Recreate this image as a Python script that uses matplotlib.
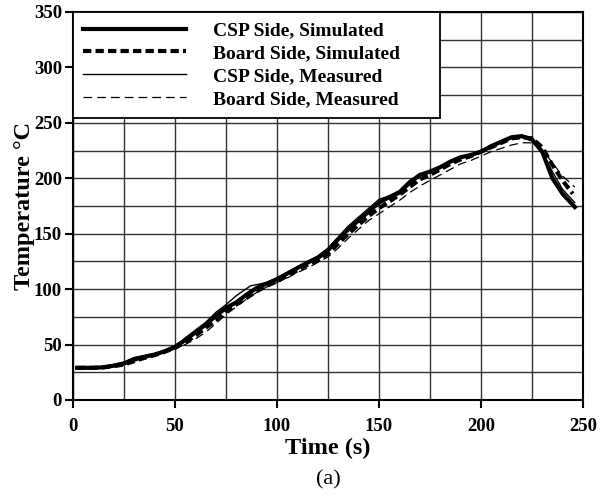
import numpy as np
import matplotlib.pyplot as plt
from matplotlib.ticker import MultipleLocator

plt.rcParams['font.family'] = ['Liberation Serif', 'DejaVu Serif']

# ---- data ----
t_csp_sim = [2, 10, 15, 20, 25, 30, 35, 40, 45, 50, 55, 60, 65, 70, 75, 80, 85, 90, 95,
             100, 105, 110, 115, 120, 125, 130, 135, 140, 145, 150, 155, 160, 165, 170,
             175, 180, 185, 190, 195, 200, 205, 210, 215, 220, 225, 230, 235, 240, 246]
T_csp_sim = [29, 29, 29.5, 31, 33, 37, 39, 41, 44, 48, 54, 61, 68, 76, 83, 88, 95, 101, 105,
             109, 114, 119, 124, 128, 135, 145, 154, 162, 170, 178, 183, 187, 196, 203,
             206, 210, 215, 219, 221, 224, 229, 233, 237, 238, 235, 224, 200, 186, 174]

t_board_sim = [2, 10, 15, 20, 25, 30, 35, 40, 45, 50, 55, 60, 65, 70, 75, 80, 85, 90, 95,
               100, 105, 110, 115, 120, 125, 130, 135, 140, 145, 150, 155, 160, 165, 170,
               175, 180, 185, 190, 195, 200, 205, 210, 215, 220, 225, 230, 235, 240, 245]
T_board_sim = [29, 29, 29.5, 30.5, 32, 35, 38, 40.5, 43.5, 47, 52, 58, 65, 72, 80, 86, 92, 98, 103,
               107, 112, 117, 122, 126, 132, 141, 150, 158, 166, 173, 179, 185, 192, 199,
               203, 208, 213, 217, 220, 224, 228, 232, 236, 237, 236, 228, 212, 198, 186]

t_csp_meas = [2, 10, 15, 20, 25, 30, 35, 40, 45, 50, 55, 60, 65, 70, 75, 80, 87, 90, 95,
              100, 105, 110, 115, 120, 125, 130, 135, 140, 145, 150, 155, 160, 165, 170,
              175, 180, 185, 190, 195, 200, 205, 210, 215, 220, 225, 230, 235, 240, 246]
T_csp_meas = [29, 29, 30, 32, 34, 38, 40, 41.5, 44, 48, 56, 63, 70, 79, 86, 94, 103, 104, 106,
              110, 115, 120, 125, 130, 137, 147, 157, 165, 173, 181, 184, 189, 198, 204,
              206, 209, 214, 218, 221, 224, 229, 233, 236, 237, 234, 224, 206, 190, 178]

t_board_meas = [2, 10, 15, 20, 25, 30, 35, 40, 45, 50, 55, 60, 65, 70, 75, 80, 85, 90, 95,
                100, 105, 110, 115, 120, 125, 130, 135, 140, 145, 150, 155, 160, 165, 170,
                175, 180, 185, 190, 195, 200, 205, 210, 215, 220, 225, 230, 235, 240, 246]
T_board_meas = [28.5, 29, 29, 30, 32, 35, 38, 40, 43, 46, 50, 55, 61, 69, 77, 84, 91, 97, 102,
                106, 110, 115, 119, 124, 129, 137, 146, 154, 162, 168, 174, 180, 187, 193,
                198, 203, 208, 213, 216, 220, 224, 227, 230, 232, 232, 226, 214, 202, 192]

labels = ["CSP Side, Simulated", "Board Side, Simulated",
          "CSP Side, Measured", "Board Side, Measured"]

fig = plt.figure(figsize=(6.1, 4.97), dpi=100)
ax = fig.add_axes([0.1197, 0.1952, 0.8360, 0.7807])

ax.plot(t_csp_sim, T_csp_sim, color="black", lw=3.0, label=labels[0])
ax.plot(t_board_sim, T_board_sim, color="black", lw=3.0, ls=(0, (2.0, 1.0)), label=labels[1])
ax.plot(t_csp_meas, T_csp_meas, color="black", lw=1.0, label=labels[2])
ax.plot(t_board_meas, T_board_meas, color="black", lw=0.9, ls=(0, (7, 4)), label=labels[3])

ax.set_xlim(0, 250)
ax.set_ylim(0, 350)
ax.xaxis.set_major_locator(MultipleLocator(50))
ax.yaxis.set_major_locator(MultipleLocator(50))
ax.xaxis.set_minor_locator(MultipleLocator(25))
ax.yaxis.set_minor_locator(MultipleLocator(25))
ax.grid(which="both", color="#333333", lw=1.0)
ax.set_axisbelow(True)
ax.tick_params(which="major", direction="out", length=6, width=1.5, labelsize=13.5)
ax.tick_params(axis="x", which="major", pad=7)
ax.tick_params(axis="y", which="major", pad=2)
ax.tick_params(which="minor", length=0)
for lab in ax.get_xticklabels() + ax.get_yticklabels():
    lab.set_fontweight("bold")
for sp in ax.spines.values():
    sp.set_linewidth(1.5)
    sp.set_color("black")

ax.set_xlabel("Time (s)", fontsize=17.5, fontweight="bold", labelpad=2)
ax.set_ylabel("Temperature °C", fontsize=17.5, fontweight="bold", labelpad=-1)

leg = ax.legend(loc="upper left", bbox_to_anchor=(0, 1, 0.72, 0), mode="expand",
                borderaxespad=0, handlelength=5.3,
                fancybox=False, framealpha=1, edgecolor="black",
                prop={"weight": "bold", "size": 14}, borderpad=0.5,
                labelspacing=0.27, handletextpad=1.4)
leg.get_frame().set_linewidth(1.3)

fig.text(0.538, 0.035, "(a)", fontsize=16, ha="center", va="center")

fig.savefig("out.png", dpi=100)
